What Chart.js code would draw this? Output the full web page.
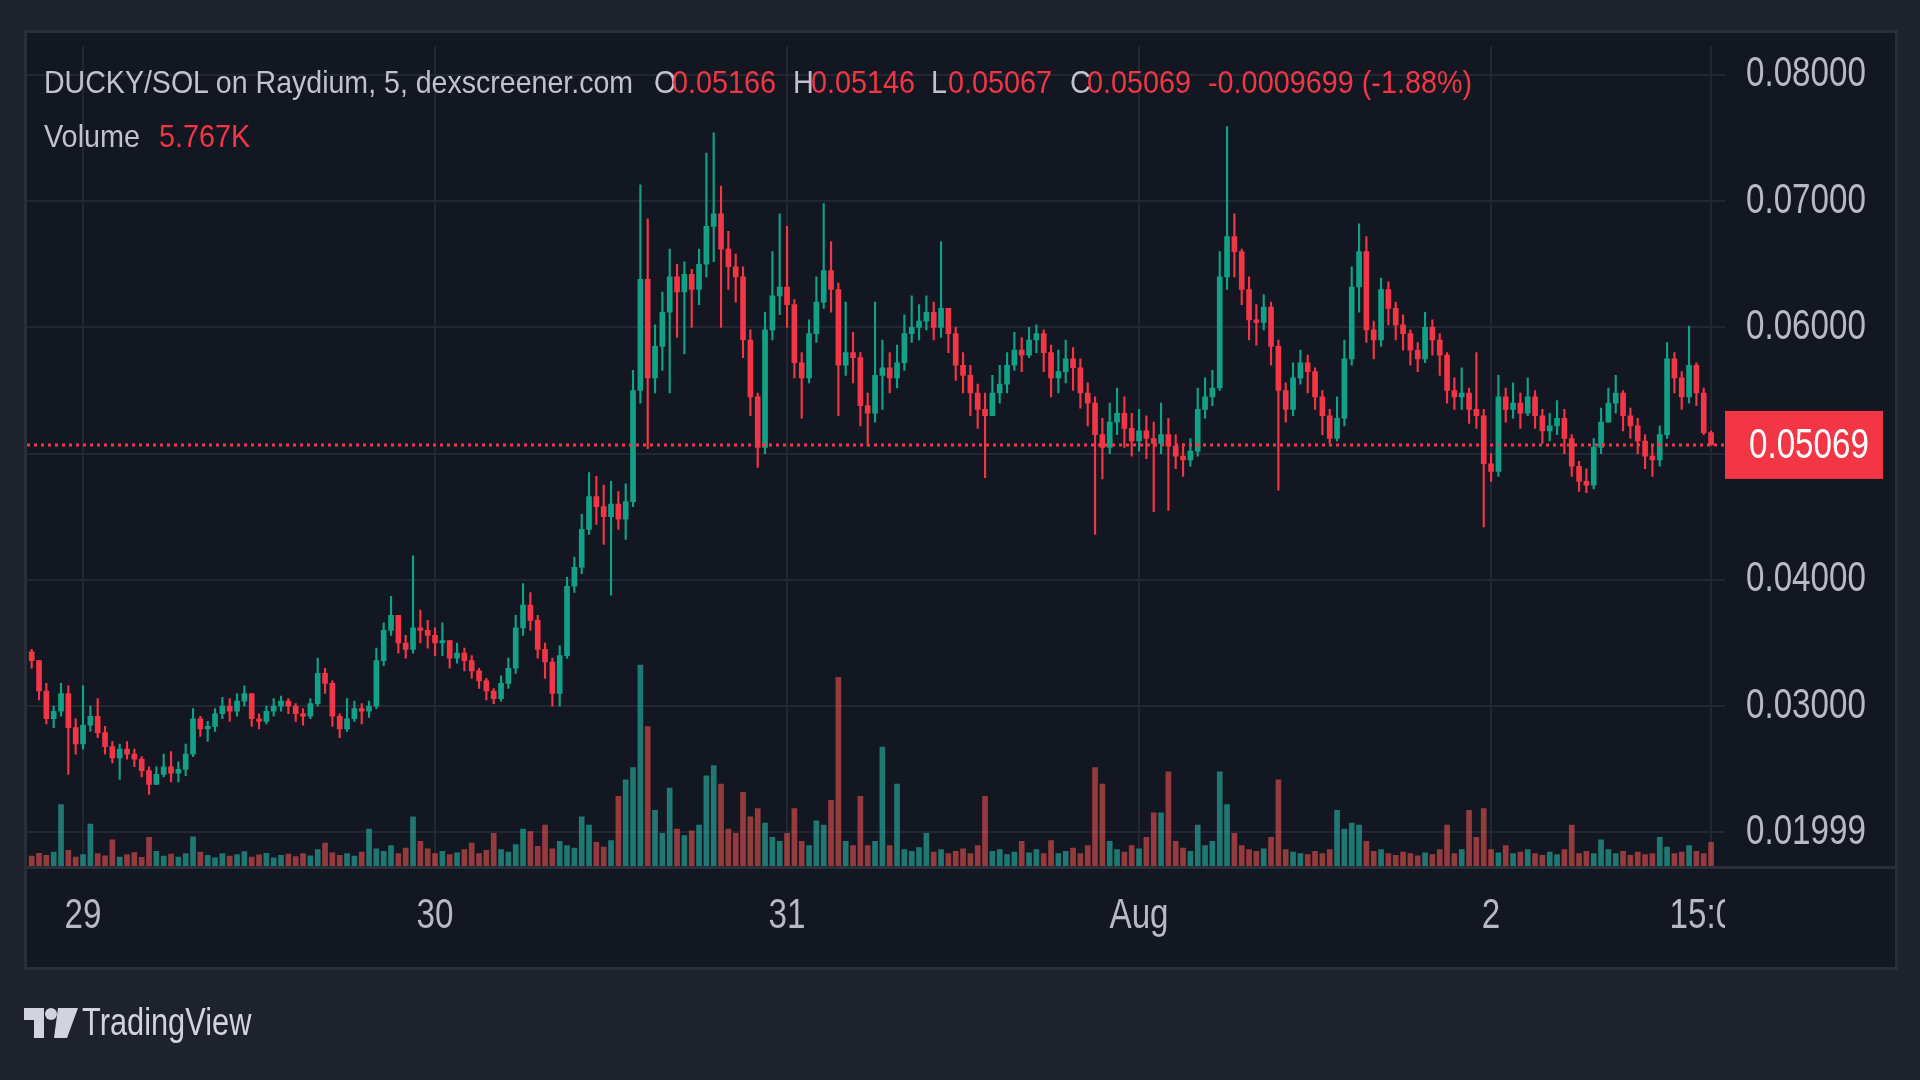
<!DOCTYPE html>
<html>
<head>
<meta charset="utf-8">
<script src="https://cdn.jsdelivr.net/npm/chart.js@4.4.1/dist/chart.umd.min.js"></script>
<style>
html,body{margin:0;padding:0;width:1920px;height:1080px;overflow:hidden;background:#1e222d;}
#panel{position:absolute;left:24px;top:30px;width:1868px;height:934px;border:3px solid #2a2e39;background:#131722;}
#wrap{position:absolute;left:0;top:0;width:1920px;height:1080px;}
#c{display:block;width:1920px;height:1080px;}
.t{position:absolute;font-family:'Liberation Sans',Arial,sans-serif;font-size:32px;line-height:32px;color:#c0c3cb;white-space:nowrap;transform:scaleX(0.9);transform-origin:0 0;}
.r{color:#f23645;}
#title{transform:scaleX(0.892);}
#logo{position:absolute;left:24px;top:1008px;}
#tvtext{font-size:38px;line-height:38px;color:#d1d4dc;left:82px;top:1003px;transform:scaleX(0.81);}
</style>
</head>
<body>
<div id="panel"></div>
<div id="wrap"><canvas id="c" width="1920" height="1080"></canvas></div>

<div class="t" id="title" style="left:44px;top:66px">DUCKY/SOL on Raydium, 5, dexscreener.com</div>
<div class="t" style="left:654px;top:66px">O</div>
<div class="t r" style="left:672px;top:66px">0.05166</div>
<div class="t" style="left:793px;top:66px">H</div>
<div class="t r" style="left:811px;top:66px">0.05146</div>
<div class="t" style="left:931px;top:66px">L</div>
<div class="t r" style="left:948px;top:66px">0.05067</div>
<div class="t" style="left:1070px;top:66px">C</div>
<div class="t r" style="left:1087px;top:66px">0.05069</div>
<div class="t r" style="left:1208px;top:66px">-0.0009699 (-1.88%)</div>
<div class="t" style="left:44px;top:120px">Volume</div>
<div class="t r" style="left:159px;top:120px">5.767K</div>

<svg id="logo" width="54" height="30" viewBox="0 0 54 30">
  <path d="M0 0 H20 V30 H10 V12 H0 Z" fill="#d1d4dc"/>
  <circle cx="27" cy="6" r="6" fill="#d1d4dc"/>
  <path d="M34 0 H54 L43 30 H30 Z" fill="#d1d4dc"/>
</svg>
<div class="t" id="tvtext">TradingView</div>

<script>
// ---------- DATA (30-minute candles, hours from Jul 29 00:00) ----------
const firstHour = -3.5;
const stepHours = 0.5;
const firstOpen = 0.0343;

const closes = [
  0.0336,0.0312,0.0290,0.0296,0.0310,0.0283,0.0270,0.0285,
  0.0292,0.0279,0.0268,0.0259,0.0266,0.0262,0.0258,0.0249,
  0.0238,0.0246,0.0252,0.0247,0.0250,0.0262,0.0290,0.0282,
  0.0284,0.0294,0.0300,0.0296,0.0304,0.0310,0.0290,0.0288,
  0.0296,0.0300,0.0304,0.0300,0.0294,0.0292,0.0302,0.0326,
  0.0318,0.0292,0.0282,0.0290,0.0298,0.0296,0.0300,0.0336,
  0.0360,0.0372,0.0350,0.0345,0.0362,0.0360,0.0356,0.0350,
  0.0352,0.0338,0.0342,0.0336,0.0328,0.0320,0.0312,0.0306,
  0.0318,0.0330,0.0362,0.0380,0.0368,0.0345,0.0335,0.0310,
  0.0340,0.0395,0.0410,0.0440,0.0466,0.0458,0.0450,0.0460,
  0.0448,0.0462,0.0550,0.0638,0.0560,0.0585,0.0612,0.0640,
  0.0628,0.0642,0.0630,0.0650,0.0680,0.0690,0.0662,0.0648,
  0.0640,0.0590,
  0.0545,0.0505,0.0598,0.0625,0.0632,0.0618,0.0572,0.0560,
  0.0595,0.0620,0.0645,0.0630,0.0570,0.0580,0.0576,0.0538,
  0.0532,0.0562,0.0568,0.0560,0.0572,0.0595,0.0600,0.0605,
  0.0612,0.0600,0.0615,0.0595,0.0570,0.0562,0.0548,0.0535,
  0.0530,0.0548,0.0555,0.0570,0.0582,0.0578,0.0590,0.0595,
  0.0580,0.0560,0.0565,0.0575,0.0568,0.0548,0.0540,0.0515,
  0.0505,0.0525,0.0532,0.0520,0.0510,0.0518,0.0512,0.0508,
  0.0515,0.0506,0.0498,0.0495,0.0502,0.0535,0.0545,0.0552,
  0.0640,
  0.0672,0.0660,0.0630,0.0606,0.0604,0.0616,0.0585,0.0550,
  0.0535,0.0560,0.0572,0.0565,0.0545,0.0530,0.0512,0.0528,
  0.0575,0.0632,0.0660,0.0598,0.0590,0.0630,0.0615,0.0602,
  0.0595,0.0582,0.0575,0.0600,0.0590,0.0578,0.0550,0.0545,
  0.0548,0.0535,0.0530,0.0492,0.0486,0.0545,0.0535,0.0540,
  0.0532,0.0545,0.0530,0.0518,0.0522,0.0528,0.0512,0.0490,
  0.0478,0.0475,0.0505,0.0525,0.0540,0.0548,0.0530,0.0522,
  0.0510,0.0498,0.0495,0.0515,0.0575,0.0560,0.0545,0.0570,
  0.0548,0.05166,0.05069
];

const highs = [
  0.0345,0.0336,0.0318,0.0300,0.0318,0.0316,0.0290,0.0316,
  0.0300,0.0306,0.0284,0.0272,0.0270,0.0272,0.0266,0.0260,
  0.0252,0.0252,0.0262,0.0264,0.0256,0.0270,0.0298,0.0292,
  0.0288,0.0298,0.0307,0.0306,0.0310,0.0316,0.0310,0.0294,
  0.0300,0.0306,0.0308,0.0306,0.0302,0.0298,0.0306,0.0338,
  0.0330,0.0320,0.0294,0.0306,0.0304,0.0302,0.0304,0.0346,
  0.0366,0.0387,0.0372,0.0356,0.0419,0.0376,0.0368,0.0362,
  0.0366,0.0350,0.0350,0.0346,0.0340,0.0330,0.0322,0.0314,
  0.0324,0.0338,0.0372,0.0397,0.0390,0.0372,0.0350,0.0338,
  0.0348,0.0402,0.0418,0.0452,0.0485,0.0482,0.0475,0.0478,
  0.0470,0.0476,0.0566,0.0713,0.0686,0.0602,0.0628,0.0662,
  0.0650,0.0652,0.0646,0.0662,0.0738,0.0754,0.0712,0.0676,
  0.0658,0.0648,
  0.0598,0.0548,0.0612,0.0660,0.0690,0.0680,0.0622,0.0580,
  0.0606,0.0640,0.0698,0.0668,0.0635,0.0620,0.0596,0.0580,
  0.0548,0.0620,0.0590,0.0580,0.0586,0.0610,0.0625,0.0618,
  0.0625,0.0620,0.0668,0.0615,0.0600,0.0580,0.0570,0.0555,
  0.0548,0.0562,0.0570,0.0580,0.0596,0.0592,0.0600,0.0602,
  0.0598,0.0586,0.0582,0.0590,0.0584,0.0575,0.0556,0.0545,
  0.0528,0.0540,0.0552,0.0545,0.0532,0.0535,0.0530,0.0525,
  0.0540,0.0528,0.0515,0.0508,0.0512,0.0552,0.0560,0.0566,
  0.0660,
  0.0759,0.0690,0.0662,0.0640,0.0618,0.0626,0.0620,0.0590,
  0.0556,0.0572,0.0582,0.0578,0.0568,0.0550,0.0535,0.0545,
  0.0590,0.0648,0.0682,0.0672,0.0605,0.0639,0.0636,0.0620,
  0.0610,0.0598,0.0588,0.0612,0.0606,0.0595,0.0580,0.0560,
  0.0568,0.0552,0.0580,0.0535,0.0500,0.0562,0.0552,0.0556,
  0.0548,0.0560,0.0550,0.0535,0.0532,0.0542,0.0535,0.0515,
  0.0494,0.0488,0.0512,0.0536,0.0552,0.0562,0.0550,0.0536,
  0.0528,0.0515,0.0506,0.0522,0.0588,0.0580,0.0565,0.0601,
  0.0572,0.0552,0.05180
];

const lows = [
  0.0330,0.0305,0.0286,0.0283,0.0292,0.0246,0.0262,0.0266,
  0.0280,0.0275,0.0262,0.0255,0.0242,0.0258,0.0252,0.0244,
  0.0230,0.0238,0.0244,0.0240,0.0240,0.0245,0.0260,0.0276,
  0.0272,0.0280,0.0290,0.0288,0.0292,0.0300,0.0284,0.0282,
  0.0286,0.0292,0.0296,0.0294,0.0288,0.0285,0.0290,0.0300,
  0.0310,0.0284,0.0275,0.0280,0.0288,0.0286,0.0291,0.0298,
  0.0332,0.0356,0.0342,0.0338,0.0342,0.0350,0.0346,0.0340,
  0.0340,0.0330,0.0334,0.0328,0.0322,0.0314,0.0305,0.0302,
  0.0304,0.0314,0.0326,0.0356,0.0360,0.0338,0.0322,0.0300,
  0.0300,0.0338,0.0390,0.0405,0.0436,0.0444,0.0428,0.0388,
  0.0440,0.0432,0.0458,0.0540,0.0504,0.0548,0.0566,0.0548,
  0.0592,0.0579,0.0600,0.0618,0.0640,0.0652,0.0600,0.0630,
  0.0620,0.0576,
  0.0530,0.0489,0.0500,0.0590,0.0610,0.0600,0.0560,0.0528,
  0.0556,0.0588,0.0615,0.0612,0.0530,0.0562,0.0556,0.0522,
  0.0506,0.0525,0.0535,0.0548,0.0552,0.0566,0.0588,0.0590,
  0.0598,0.0590,0.0592,0.0580,0.0558,0.0548,0.0530,0.0520,
  0.0481,0.0535,0.0540,0.0548,0.0566,0.0565,0.0576,0.0580,
  0.0565,0.0545,0.0548,0.0556,0.0550,0.0536,0.0522,0.0436,
  0.0480,0.0500,0.0515,0.0505,0.0498,0.0502,0.0496,0.0454,
  0.0500,0.0455,0.0488,0.0482,0.0490,0.0498,0.0528,0.0538,
  0.0550,
  0.0630,0.0640,0.0618,0.0590,0.0586,0.0598,0.0570,0.0471,
  0.0525,0.0530,0.0555,0.0548,0.0535,0.0515,0.0508,0.0510,
  0.0522,0.0570,0.0612,0.0588,0.0575,0.0585,0.0602,0.0590,
  0.0582,0.0570,0.0565,0.0572,0.0578,0.0562,0.0540,0.0535,
  0.0535,0.0524,0.0520,0.0442,0.0478,0.0482,0.0525,0.0528,
  0.0520,0.0530,0.0520,0.0508,0.0510,0.0515,0.0500,0.0482,
  0.0470,0.0469,0.0472,0.0500,0.0525,0.0532,0.0518,0.0512,
  0.0500,0.0488,0.0482,0.0490,0.0512,0.0548,0.0535,0.0540,
  0.0538,0.0515,0.05067
];

// volume in thousands
const volumes = [
  2.4,3.1,2.6,3.4,15.0,3.8,2.2,2.8,
  10.2,3.0,2.5,6.4,2.2,2.8,3.3,2.1,
  7.0,3.6,2.4,2.9,2.2,3.0,7.1,3.4,
  2.6,2.0,3.0,2.4,2.8,3.5,2.2,2.7,
  3.1,2.0,2.6,2.9,2.3,3.0,2.5,4.0,
  5.6,3.2,2.6,3.0,2.4,3.4,9.0,4.2,
  3.6,5.0,3.0,4.4,12.0,6.0,4.2,3.0,
  3.6,2.8,3.2,4.0,5.6,3.0,3.8,8.0,
  4.0,3.4,5.2,9.0,8.4,4.8,10.0,4.2,
  6.0,5.0,4.4,12.0,10.0,5.8,4.6,6.2,
  17.0,21.0,24.0,49.0,34.0,13.6,8.0,19.0,
  9.0,7.4,8.6,10.0,22.0,24.5,20.0,9.0,
  8.0,18.0,
  12.0,14.0,10.5,7.0,6.0,8.0,14.0,6.0,
  5.0,11.0,10.0,16.0,46.0,6.0,5.0,17.0,
  5.0,6.0,29.0,5.0,20.0,4.0,3.6,4.5,
  8.0,3.4,4.0,3.0,3.6,4.2,3.0,5.0,
  17.0,3.6,4.0,2.8,3.4,6.0,3.2,4.0,
  3.0,6.2,3.0,3.6,4.4,3.0,5.0,24.0,
  20.0,6.0,4.0,3.4,5.0,4.2,7.0,13.0,
  13.0,23.0,6.0,4.4,3.6,10.0,5.0,6.0,
  23.0,
  15.0,8.0,5.0,4.0,3.6,4.2,7.0,21.0,
  4.0,3.4,3.0,2.8,3.6,3.0,4.0,13.6,
  9.0,10.5,10.0,6.0,3.6,4.0,3.0,2.6,
  3.4,3.0,2.5,3.2,2.8,4.0,10.0,3.0,
  4.0,13.6,7.0,14.0,4.0,3.2,5.0,3.0,
  3.4,4.0,3.0,2.6,3.4,2.8,4.0,10.0,
  3.0,3.6,3.0,6.4,4.0,3.0,3.6,2.6,
  3.4,2.8,3.0,7.0,4.6,3.0,3.4,5.0,
  3.6,3.0,5.767
];

// axes
const xTickHours  = [0, 24, 48, 72, 96, 111];
const xTickLabels = ['29', '30', '31', 'Aug', '2', '15:00'];
const yTickValues = [0.02, 0.03, 0.04, 0.05, 0.06, 0.07, 0.08];
const yTickLabels = ['0.01999', '0.03000', '0.04000', '0.05000', '0.06000', '0.07000', '0.08000'];
const xMin = -3.82, xMax = 111.95;
const yMin = 0.01734, yMax = 0.08227;
const volMax = 200;

// ---------- BUILD ----------
const UP = '#12a187', DOWN = '#f23645';
const UPV = 'rgba(38,166,154,0.68)', DOWNV = 'rgba(239,83,80,0.6)';
const GRID = '#232733';
const FONT = "'Liberation Sans',Arial,sans-serif";
const AXIS_TEXT = '#b7bac2';
const TEXT_SQUEEZE = 0.79;

const opens = closes.map((c, i) => i === 0 ? firstOpen : closes[i - 1]);
const hours = closes.map((c, i) => firstHour + i * stepHours);
const up = closes.map((c, i) => c >= opens[i]);
const lastPrice = closes[closes.length - 1];

const wickData = hours.map((h, i) => ({x: h, y: [Math.min(lows[i], opens[i], closes[i]), Math.max(highs[i], opens[i], closes[i])]}));
const bodyData = hours.map((h, i) => ({x: h, y: [opens[i], closes[i]]}));
const volData  = hours.map((h, i) => ({x: h, y: volumes[i]}));
const candleColors = up.map(u => u ? UP : DOWN);
const volColors = up.map(u => u ? UPV : DOWNV);

// condensed text rendering for all canvas text (axis labels, price tag)
const squeeze = {
  id: 'squeeze',
  beforeInit(chart) {
    const ctx = chart.ctx;
    const orig = ctx.fillText.bind(ctx);
    ctx.fillText = function (text, x, y, maxWidth) {
      ctx.save();
      ctx.translate(x, y);
      ctx.scale(TEXT_SQUEEZE, 1);
      if (maxWidth === undefined || maxWidth === null || isNaN(maxWidth)) orig(text, 0, 0);
      else orig(text, 0, 0, maxWidth / TEXT_SQUEEZE);
      ctx.restore();
    };
  }
};

const overlay = {
  id: 'overlay',
  afterDraw(chart) {
    const ctx = chart.ctx, a = chart.chartArea, ys = chart.scales.y;
    ctx.save();
    ctx.fillStyle = '#131722';
    ctx.fillRect(a.right, a.bottom + 3, 1895 - a.right, 97);
    ctx.fillStyle = '#2a2e39';
    ctx.fillRect(a.left, a.bottom, 1895 - a.left, 3);
    const yy = ys.getPixelForValue(lastPrice);
    ctx.fillStyle = DOWN;
    ctx.fillRect(a.right, yy - 34, 158, 68);
    ctx.fillStyle = '#ffffff';
    ctx.font = '42px ' + FONT;
    ctx.textAlign = 'left';
    ctx.textBaseline = 'middle';
    ctx.fillText(lastPrice.toFixed(5), a.right + 24, yy + 1);
    ctx.restore();
  }
};

new Chart(document.getElementById('c'), {
  type: 'bar',
  data: {
    datasets: [
      { type: 'line', data: [{x: xMin, y: lastPrice}, {x: xMax, y: lastPrice}],
        borderColor: DOWN, borderWidth: 3, borderDash: [3, 4], pointRadius: 0,
        yAxisID: 'y', order: 0 },
      { data: bodyData, backgroundColor: candleColors, barThickness: 5, minBarLength: 1.5,
        grouped: false, yAxisID: 'y', order: 1 },
      { data: wickData, backgroundColor: candleColors, barThickness: 1.5,
        grouped: false, yAxisID: 'y', order: 2 },
      { data: volData, backgroundColor: volColors, barThickness: 5,
        grouped: false, yAxisID: 'yv', order: 4 }
    ]
  },
  options: {
    responsive: false,
    animation: false,
    devicePixelRatio: 1,
    layout: { padding: { left: 27, top: 35, right: 25, bottom: 114 } },
    plugins: { legend: { display: false }, tooltip: { enabled: false } },
    scales: {
      x: {
        type: 'linear', min: xMin, max: xMax, offset: false,
        grid: { color: GRID, lineWidth: 2, drawTicks: false, tickLength: 0, offset: false },
        border: { display: false },
        afterBuildTicks: s => { s.ticks = xTickHours.map(v => ({value: v})); },
        afterFit: s => { s.height = 100; },
        ticks: { autoSkip: false, maxRotation: 0, minRotation: 0, padding: 25, color: AXIS_TEXT,
                 font: { family: FONT, size: 42 },
                 callback: (v, i) => xTickLabels[i] }
      },
      y: {
        position: 'right', min: yMin, max: yMax,
        grid: { color: GRID, lineWidth: 2, drawTicks: false, tickLength: 0 },
        border: { display: false },
        afterBuildTicks: s => { s.ticks = yTickValues.map(v => ({value: v})); },
        afterFit: s => { s.width = 170; },
        ticks: { padding: 21, color: AXIS_TEXT, font: { family: FONT, size: 42 },
                 callback: (v, i) => yTickLabels[i] }
      },
      yv: { display: false, min: 0, max: volMax }
    }
  },
  plugins: [squeeze, overlay]
});
</script>
</body>
</html>
